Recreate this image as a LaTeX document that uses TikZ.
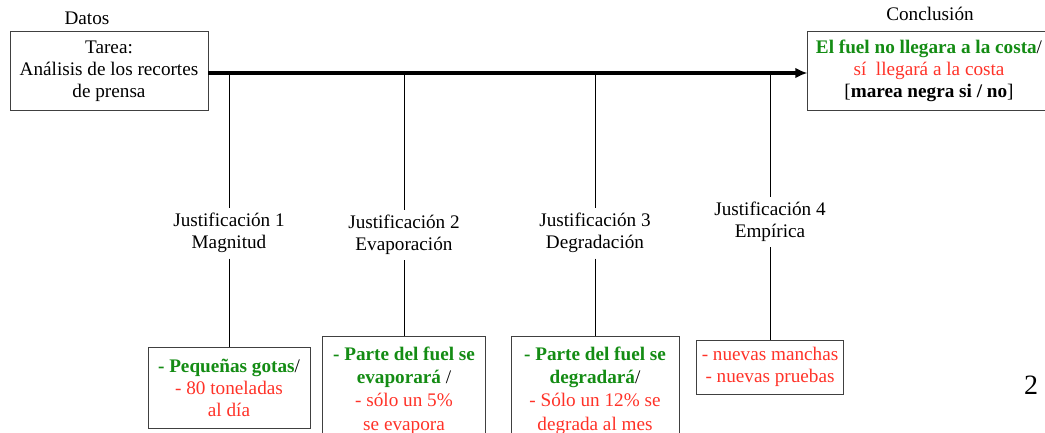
\documentclass[tikz,border=0pt]{standalone}
\usepackage{fontspec}
\setmainfont{Liberation Serif}
\usetikzlibrary{arrows.meta}

\definecolor{verde}{RGB}{20,140,20}
\definecolor{rojo}{RGB}{255,50,40}
\newcommand{\ptsi}[1]{\textcolor{verde}{\textbf{#1}}}
\newcommand{\ptno}[1]{\textcolor{rojo}{#1}}

\tikzset{
  txt/.style={font=\fontsize{14.4}{16.6}\selectfont, align=center, inner sep=4pt},
  caja/.style={txt, draw=black!75, thin},
  cajaalta/.style={caja, anchor=north, font=\fontsize{14.4}{17.4}\selectfont, inner ysep=8pt},
  eje/.style={line width=2.6pt, -{Latex[length=9pt,width=8pt]}},
  rama/.style={black, line width=0.6pt}
}

\begin{document}
\begin{tikzpicture}[x=0.75pt,y=-0.75pt]
    \useasboundingbox (0,0) rectangle (1045,432);
    \clip (0,0) rectangle (1045,432);

    % datos y conclusion
    \node[txt] (datosLbl) at (87,18) {Datos};
    \node[caja, minimum width=148.5pt, minimum height=59pt] (datos) at (109,71)
        {Tarea:\\ Análisis de los recortes\\ de prensa};
    \node[txt] (conclLbl) at (930,14) {Conclusión};
    \node[caja, minimum width=182pt, minimum height=59pt] (concl) at (929,71)
        {\ptsi{El fuel no llegara a la costa}/\\ \ptno{sí\ \ llegará a la costa}\\ {}[\textbf{marea negra si / no}]};

    \draw[eje] ([yshift=-1.5pt]datos.east) -- ([yshift=-1.5pt]concl.west);

    % puntos de las justificaciones
    \coordinate (j1) at (229,73);
    \coordinate (j2) at (404,73);
    \coordinate (j3) at (595,73);
    \coordinate (j4) at (770,73);

    \node[txt] (lab1) at (229,233) {Justificación 1\\ Magnitud};
    \node[txt] (lab2) at (404,235) {Justificación 2\\ Evaporación};
    \node[txt] (lab3) at (595,233) {Justificación 3\\ Degradación};
    \node[txt] (lab4) at (770,222) {Justificación 4\\ Empírica};

    \node[caja, minimum width=121.5pt, minimum height=60.5pt] (box1) at (229,388)
        {\ptsi{- Pequeñas gotas}/\\ \ptno{- 80 toneladas}\\ \ptno{al día}};
    \node[cajaalta, minimum width=122pt] (box2) at (404,336)
        {\ptsi{- Parte del fuel se}\\ \ptsi{evaporará} /\\ \ptno{- sólo un 5\%}\\ \ptno{se evapora}};
    \node[cajaalta, minimum width=126pt] (box3) at (595,336)
        {\ptsi{- Parte del fuel se}\\ \ptsi{degradará}/\\ \ptno{- Sólo un 12\% se}\\ \ptno{degrada al mes}};
    \node[caja, minimum width=110pt, minimum height=40.5pt] (box4) at (770,367)
        {\ptno{- nuevas manchas}\\ \ptno{- nuevas pruebas}};

    \draw[rama] (j1) -- (lab1) -- (box1);
    \draw[rama] (j2) -- (lab2) -- (box2);
    \draw[rama] (j3) -- (lab3) -- (box3);
    \draw[rama] (j4) -- (lab4) -- (box4);

    \node[font=\fontsize{21}{24}\selectfont] (pag) at (1031,385) {2};
\end{tikzpicture}
\end{document}
